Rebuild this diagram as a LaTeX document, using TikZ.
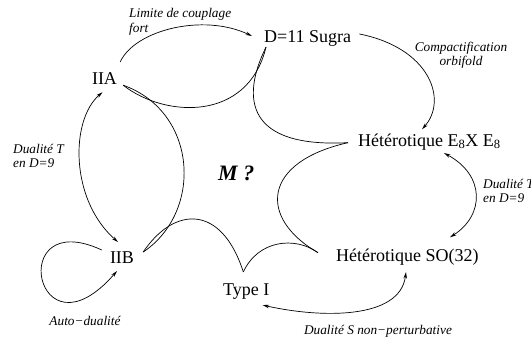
\documentclass[tikz,border=0pt]{standalone}
\usepackage{fontspec}
\setmainfont{Liberation Serif}
\usepackage{tikz}
\usetikzlibrary{arrows.meta}

\begin{document}
\begin{tikzpicture}[x=1pt,y=-1pt,
    theory/.style={inner sep=1pt,font=\fontsize{18}{21}\selectfont},
    remark/.style={inner sep=0pt,align=left,font=\fontsize{13.3}{14.5}\selectfont\itshape},
    duality/.style={line width=0.7pt,>={Stealth[length=6.5pt,width=3.5pt]}},
    web/.style={line width=0.7pt}]
      \useasboundingbox (0,0) rectangle (531,341);
      % the six limits
      \node[theory,anchor=base west] (sugra) at (263,42) {D=11 Sugra};
      \node[theory,anchor=base] (iia) at (104.5,84) {IIA};
      \node[theory,anchor=base west] (eight) at (357,146) {Hétérotique E\textsubscript{8}X E\textsubscript{8}};
      \node[theory,anchor=base west] (so) at (335,261) {Hétérotique SO(32)};
      \node[theory,anchor=base] (iib) at (122,263) {IIB};
      \node[theory,anchor=base west] (typei) at (222,295) {Type I};
      \node[anchor=base west,inner sep=0pt,font=\fontsize{22}{24}\selectfont\bfseries\itshape] (m) at (218,180) {M ?};
      % labels of the dualities
      \node[remark,anchor=west] (strong) at (129,22) {Limite de couplage\\fort};
      \node[remark,align=center] (orbifold) at (461,55) {Compactification\\orbifold};
      \node[remark,anchor=west] (tleft) at (13,156) {Dualité T\\en D=9};
      \node[remark,anchor=west] (tright) at (483,191) {Dualité T\\en D=9};
      \node[remark] (self) at (85,321) {Auto−dualité};
      \node[remark] (sdual) at (378,331) {Dualité S non−perturbative};
      % arrows
      \draw[duality,->] ([xshift=2pt,yshift=9pt]iia.north east) .. controls (135,30) and (203,13) .. ([xshift=-11pt,yshift=2pt]sugra.west);
      \draw[duality,->] ([xshift=7pt,yshift=4pt]sugra.east) .. controls (430,48) and (448,100) .. ([xshift=65pt,yshift=3pt]eight.north west);
      \draw[duality,<->] ([xshift=87pt,yshift=-2pt]eight.south west) .. controls (485,175) and (485,215) .. ([xshift=115pt,yshift=10pt]so.north west);
      \draw[duality,<->] ([xshift=71pt,yshift=-6pt]so.south west) .. controls (400,320) and (320,318) .. ([xshift=-8pt,yshift=-5pt]typei.south east);
      \draw[duality,<->] ([xshift=-2pt,yshift=-7pt]iia.south) .. controls (70,120) and (70,200) .. ([xshift=-4pt,yshift=8pt]iib.north);
      \draw[duality,->] ([xshift=-7pt]iib.north west) .. controls (5,205) and (35,365) .. ([xshift=-5pt,yshift=-21pt]iib.north);
      % the web round M
      \draw[web] ([xshift=5pt]iia.south east) .. controls (165,118) and (248,122) .. ([xshift=3pt]sugra.south west);
      \draw[web] ([xshift=5pt]iia.south east) .. controls (198,112) and (203,212) .. ([xshift=8pt,yshift=-2pt]iib.north east);
      \draw[web] ([xshift=3pt]sugra.south west) .. controls (240,100) and (248,148) .. ([xshift=-9pt,yshift=-1pt]eight.west);
      \draw[web] ([xshift=-9pt,yshift=-1pt]eight.west) .. controls (262,162) and (258,218) .. ([xshift=-17pt,yshift=4pt]so.west);
      \draw[web] ([xshift=-17pt,yshift=4pt]so.west) .. controls (295,236) and (258,240) .. ([xshift=-3pt,yshift=10pt]typei.north);
      \draw[web] ([xshift=-3pt,yshift=10pt]typei.north) .. controls (222,205) and (175,205) .. ([xshift=8pt,yshift=-2pt]iib.north east);
    \end{tikzpicture}
\end{document}
